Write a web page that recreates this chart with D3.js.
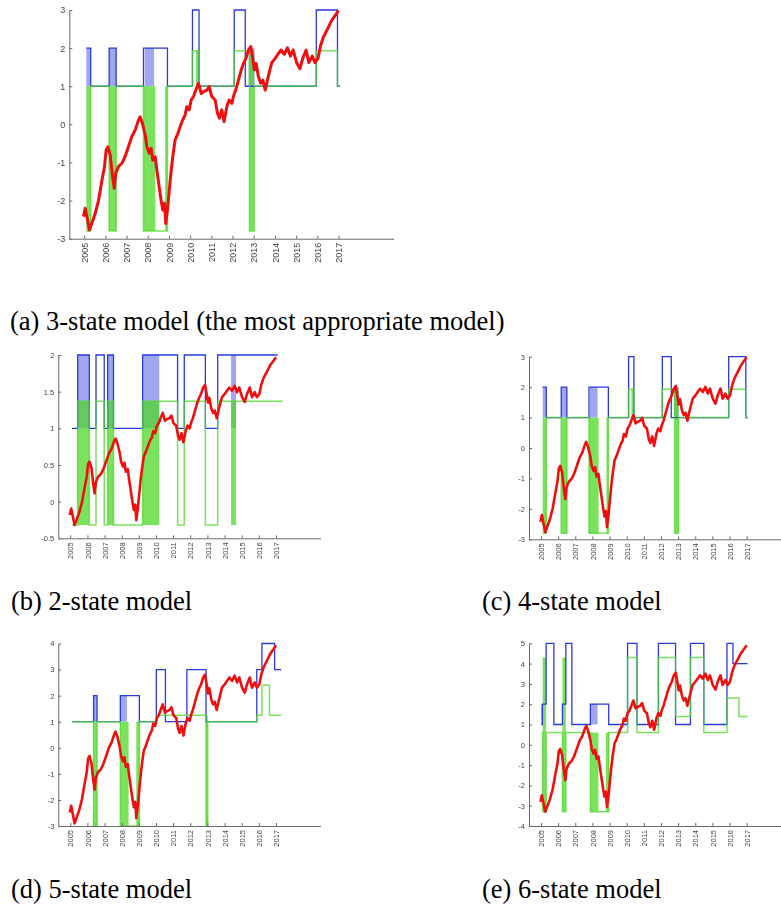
<!DOCTYPE html>
<html>
<head>
<meta charset="utf-8">
<script src="https://cdn.jsdelivr.net/npm/d3@7"></script>
<style>
  body { margin: 0; background: #fff; }
  svg { display: block; }
</style>
</head>
<body>
<svg id="fig" width="781" height="913"></svg>
<script>
// ---- shared x tick labels ----
const tickYears = [2005, 2006, 2007, 2008, 2009, 2010, 2011, 2012, 2013, 2014, 2015, 2016, 2017];

// ---- normalised price series (3-state panel units) ----
const priceT = [2004.97, 2005.05, 2005.16, 2005.25, 2005.36, 2005.52, 2005.68, 2005.83, 2005.96, 2006.04,
  2006.12, 2006.23, 2006.34, 2006.42, 2006.49, 2006.62, 2006.78, 2006.93, 2007.09, 2007.25,
  2007.41, 2007.56, 2007.64, 2007.75, 2007.88, 2007.96, 2008.07, 2008.16, 2008.24, 2008.35,
  2008.43, 2008.54, 2008.63, 2008.71, 2008.79, 2008.85, 2008.93, 2009.01, 2009.09, 2009.18,
  2009.29, 2009.42, 2009.53, 2009.64, 2009.76, 2009.84, 2009.95, 2010.05, 2010.16, 2010.27,
  2010.39, 2010.52, 2010.64, 2010.79, 2010.90, 2011.02, 2011.18, 2011.29, 2011.38, 2011.49,
  2011.60, 2011.73, 2011.84, 2011.97, 2012.04, 2012.15, 2012.28, 2012.41, 2012.52, 2012.63,
  2012.75, 2012.86, 2012.94, 2013.03, 2013.11, 2013.22, 2013.33, 2013.43, 2013.54, 2013.70,
  2013.85, 2014.01, 2014.14, 2014.28, 2014.44, 2014.59, 2014.73, 2014.86, 2015.02, 2015.18,
  2015.31, 2015.47, 2015.60, 2015.76, 2015.89, 2016.03, 2016.15, 2016.28, 2016.48, 2016.67,
  2016.87, 2017.00];
const priceV = [-2.42, -2.20, -2.51, -2.77, -2.60, -2.34, -1.99, -1.50, -1.11, -0.67,
  -0.59, -0.80, -1.37, -1.68, -1.29, -1.11, -1.02, -0.85, -0.59, -0.32,
  -0.15, 0.11, 0.20, 0.03, -0.28, -0.59, -0.76, -0.63, -0.94, -0.85,
  -1.20, -1.64, -1.99, -2.25, -2.07, -2.60, -2.25, -1.77, -1.29, -0.85,
  -0.41, -0.24, -0.06, 0.11, 0.24, 0.46, 0.38, 0.64, 0.73, 0.90,
  1.08, 0.81, 0.86, 0.90, 0.99, 0.73, 0.64, 0.29, 0.16, 0.38,
  0.07, 0.46, 0.64, 0.55, 0.73, 0.90, 1.16, 1.43, 1.60, 1.73,
  1.95, 2.04, 1.78, 1.43, 1.60, 1.25, 1.08, 1.16, 0.90, 1.29,
  1.62, 1.73, 1.84, 1.95, 1.84, 2.01, 1.79, 1.95, 1.62, 1.46,
  1.73, 1.95, 1.62, 1.79, 1.62, 1.73, 2.06, 2.28, 2.50, 2.72,
  2.88, 2.99];

// ---- 3-state model ----
const s3StateT = [2005.10, 2005.31, 2006.18, 2006.51, 2007.80, 2008.93, 2010.11, 2010.42, 2012.08, 2012.60, 2015.95, 2016.95];
const s3State  = [2, 1, 2, 1, 2, 1, 3, 1, 3, 1, 3, 1];
const s3MeanT  = [2005.10, 2005.31, 2006.18, 2006.51, 2007.80, 2008.93, 2010.11, 2010.42, 2012.08, 2012.80, 2013.02, 2015.95, 2016.95];
const s3Mean   = [-2.8, 1, -2.8, 1, -2.8, 1, 1.93, 1, 1.93, -2.8, 1, 1.93, 1];
const s3StateBands = [[2005.10, 2005.31, 1, 2], [2006.18, 2006.51, 1, 2], [2007.86, 2008.30, 1, 2], [2012.76, 2013.04, 1, 2]];
const s3MeanBands  = [[2005.10, 2005.31, -2.8, 1], [2006.18, 2006.51, -2.8, 1], [2007.80, 2008.36, -2.8, 1],
  [2008.82, 2008.93, -2.8, 1], [2010.28, 2010.42, 1, 1.93], [2012.80, 2013.02, -2.8, 1.93]];
const s3End = [2017.06, 2017.06];
const s3PriceSpan = [-2.77, 2.99];

// ---- 2-state model ----
const s2StateT = [2005.10, 2005.43, 2006.11, 2006.50, 2006.98, 2007.18, 2007.52, 2009.22, 2011.26, 2011.65, 2012.88, 2013.60];
const s2State  = [1, 2, 1, 2, 1, 2, 1, 2, 1, 2, 1, 2];
const s2MeanT  = [2005.10, 2005.43, 2006.11, 2006.50, 2006.98, 2007.18, 2007.52, 2009.22, 2011.26, 2011.65, 2012.88, 2013.60];
const s2Mean   = [-0.32, 1.37, -0.32, 1.37, -0.32, 1.37, -0.32, 1.37, -0.32, 1.37, -0.32, 1.37];
const s2StateBands = [[2005.43, 2006.11, 1, 2], [2007.18, 2007.52, 1, 2], [2009.22, 2010.19, 1, 2], [2014.38, 2014.67, 1, 2]];
const s2MeanBands  = [[2005.43, 2006.11, -0.32, 1.37], [2007.18, 2007.52, -0.32, 1.37], [2009.22, 2010.19, -0.32, 1.37], [2014.38, 2014.67, -0.32, 1.37]];
const s2End = [2017.10, 2017.40];
const s2PriceSpan = [-0.32, 1.97];

// ---- 5-state model ----
const s5StateT = [2005.10, 2006.36, 2006.56, 2007.92, 2009.03, 2010.02, 2010.55, 2011.80, 2012.92, 2015.88, 2016.18, 2016.92];
const s5State  = [1, 2, 1, 2, 1, 3, 1, 3, 1, 3, 4, 3];
const s5MeanT  = [2005.10, 2006.36, 2006.56, 2007.92, 2009.03, 2010.02, 2012.92, 2013.02, 2015.88, 2016.18, 2016.62];
const s5Mean   = [1, -3, 1, -3, 1, 1.25, -3, 1, 1.25, 2.4, 1.25];
const s5StateBands = [[2006.36, 2006.56, 1, 2], [2007.92, 2008.30, 1, 2]];
const s5MeanBands  = [[2006.36, 2006.56, -3, 1], [2007.92, 2008.40, -3, 1], [2008.85, 2009.03, -3, 1], [2012.92, 2013.02, -3, 1.25]];
const s5End = [2017.30, 2017.30];
const s5PriceSpan = [-2.9, 3.93];

// ---- 6-state model ----
const s6StateT = [2005.02, 2005.08, 2005.30, 2005.75, 2006.25, 2006.45, 2006.80, 2007.88, 2008.95, 2010.05, 2010.60, 2011.85, 2012.85, 2013.72, 2014.50, 2015.85, 2016.20];
const s6State  = [1, 2, 5, 1, 2, 5, 1, 2, 1, 5, 1, 5, 1, 5, 1, 5, 4];
const s6MeanT  = [2005.02, 2005.10, 2005.30, 2006.25, 2006.45, 2007.88, 2008.95, 2010.05, 2010.60, 2011.85, 2012.85, 2013.72, 2014.50, 2015.85, 2016.55];
const s6Mean   = [0.6, -3.3, 0.6, -3.3, 0.6, -3.3, 0.6, 4.3, 0.6, 4.3, 1.4, 4.3, 0.6, 2.3, 1.4];
const s6StateBands = [[2005.02, 2005.08, 1, 2], [2007.88, 2008.30, 1, 2]];
const s6MeanBands  = [[2005.10, 2005.30, -3.3, 4.3], [2006.25, 2006.45, -3.3, 4.3], [2007.88, 2008.35, -3.3, 0.6], [2008.78, 2008.95, -3.3, 0.6]];
const s6End = [2017.05, 2017.05];
const s6PriceSpan = [-3.3, 4.9];

// ---- panel layout ----
const X_DOMAIN = [2004.3, 2019.6];
const panels = [
  { caption: "(a) 3-state model (the most appropriate model)", capX: 10, capY: 330,
    left: 69.3, top: 10, bottom: 238.7, pxYear: 21.2, yDomain: [-3, 3], yTicks: [-3, -2, -1, 0, 1, 2, 3],
    font: 9, redW: 3,
    stT: s3StateT, st: s3State, mT: s3MeanT, m: s3Mean, stB: s3StateBands, mB: s3MeanBands, end: s3End, span: s3PriceSpan },
  { caption: "(b) 2-state model", capX: 11, capY: 610,
    left: 58.3, top: 355, bottom: 538.3, pxYear: 17.14, yDomain: [-0.5, 2], yTicks: [-0.5, 0, 0.5, 1, 1.5, 2],
    font: 7.5, redW: 2.6,
    stT: s2StateT, st: s2State, mT: s2MeanT, m: s2Mean, stB: s2StateBands, mB: s2MeanBands, end: s2End, span: s2PriceSpan },
  { caption: "(c) 4-state model", capX: 482, capY: 610,
    left: 529, top: 356.7, bottom: 539.3, pxYear: 17.14, yDomain: [-3, 3], yTicks: [-3, -2, -1, 0, 1, 2, 3],
    font: 7.5, redW: 2.6,
    stT: s3StateT, st: s3State, mT: s3MeanT, m: s3Mean, stB: s3StateBands, mB: s3MeanBands, end: s3End, span: s3PriceSpan },
  { caption: "(d) 5-state model", capX: 11, capY: 898,
    left: 58.3, top: 643.5, bottom: 826, pxYear: 17.14, yDomain: [-3, 4], yTicks: [-3, -2, -1, 0, 1, 2, 3, 4],
    font: 7.5, redW: 2.6,
    stT: s5StateT, st: s5State, mT: s5MeanT, m: s5Mean, stB: s5StateBands, mB: s5MeanBands, end: s5End, span: s5PriceSpan },
  { caption: "(e) 6-state model", capX: 482, capY: 898,
    left: 529, top: 643.3, bottom: 826, pxYear: 17.14, yDomain: [-4, 5], yTicks: [-4, -3, -2, -1, 0, 1, 2, 3, 4, 5],
    font: 7.5, redW: 2.6,
    stT: s6StateT, st: s6State, mT: s6MeanT, m: s6Mean, stB: s6StateBands, mB: s6MeanBands, end: s6End, span: s6PriceSpan }
];

const BLUE = "#2a3bdc", GREEN = "#4fd82a", RED = "#f01010", AXIS = "#6a6a6a", TEXT = "#444";
const svg = d3.select("#fig");

// the plotted panels are slightly soft; captions stay sharp
svg.append("defs").append("filter").attr("id", "soft")
  .attr("x", "-5%").attr("y", "-5%").attr("width", "110%").attr("height", "110%")
  .append("feGaussianBlur").attr("stdDeviation", 0.55);

function stepPoints(ts, vs, end) {
  const pts = ts.map((t, i) => [t, vs[i]]);
  pts.push([end, vs[vs.length - 1]]);
  return pts;
}

panels.forEach(p => {
  const x = d3.scaleLinear().domain(X_DOMAIN)
    .range([p.left, p.left + (X_DOMAIN[1] - X_DOMAIN[0]) * p.pxYear]);
  const y = d3.scaleLinear().domain(p.yDomain).range([p.bottom, p.top]);
  const priceScale = d3.scaleLinear().domain(d3.extent(priceV)).range(p.span);
  const g = svg.append("g").attr("filter", "url(#soft)");

  const step = d3.line().x(d => x(d[0])).y(d => y(d[1])).curve(d3.curveStepAfter);

  // flicker bands: rapid regime switching shows as filled blocks
  g.append("g").selectAll("rect").data(p.stB).join("rect")
    .attr("x", d => x(d[0])).attr("width", d => x(d[1]) - x(d[0]))
    .attr("y", d => y(d[3])).attr("height", d => y(d[2]) - y(d[3]))
    .attr("fill", BLUE).attr("fill-opacity", 0.45);
  g.append("g").selectAll("rect").data(p.mB).join("rect")
    .attr("x", d => x(d[0])).attr("width", d => x(d[1]) - x(d[0]))
    .attr("y", d => y(d[3])).attr("height", d => y(d[2]) - y(d[3]))
    .attr("fill", GREEN).attr("fill-opacity", 0.75);

  // regime index (blue) and regime level (green)
  g.append("path").datum(stepPoints(p.stT, p.st, p.end[0]))
    .attr("d", step).attr("fill", "none").attr("stroke", BLUE).attr("stroke-width", 1.3);
  g.append("path").datum(stepPoints(p.mT, p.m, p.end[1]))
    .attr("d", step).attr("fill", "none").attr("stroke", GREEN).attr("stroke-width", 1.5)
    .attr("stroke-opacity", 0.75);

  // price (red)
  const line = d3.line().x((d, i) => x(priceT[i])).y(d => y(priceScale(d)));
  g.append("path").datum(priceV).attr("d", line)
    .attr("fill", "none").attr("stroke", RED).attr("stroke-width", p.redW)
    .attr("stroke-linejoin", "round");

  // axes: ticks point into the plot
  const ya = g.append("g").attr("transform", `translate(${p.left},0)`)
    .call(d3.axisLeft(y).tickValues(p.yTicks).tickSize(-3).tickSizeOuter(0).tickPadding(4)
      .tickFormat(d => String(d)));
  const xa = g.append("g").attr("transform", `translate(0,${p.bottom})`)
    .call(d3.axisBottom(x).tickValues(tickYears).tickSize(-3).tickSizeOuter(0)
      .tickFormat(d3.format("d")));
  xa.selectAll("text")
    .attr("y", 0).attr("x", -4).attr("dy", "0.35em")
    .attr("transform", "rotate(-90)").style("text-anchor", "end");
  [ya, xa].forEach(a => {
    a.selectAll("path, line").attr("stroke", AXIS);
    a.selectAll("text").attr("fill", TEXT)
      .style("font-family", "'Liberation Sans', Arial, sans-serif").style("font-size", p.font + "px");
  });

  // caption
  svg.append("text").attr("x", p.capX).attr("y", p.capY).text(p.caption)
    .style("font-family", "'Liberation Serif', 'Times New Roman', serif")
    .style("font-size", "26.5px").attr("fill", "#000");
});
</script>
</body>
</html>
